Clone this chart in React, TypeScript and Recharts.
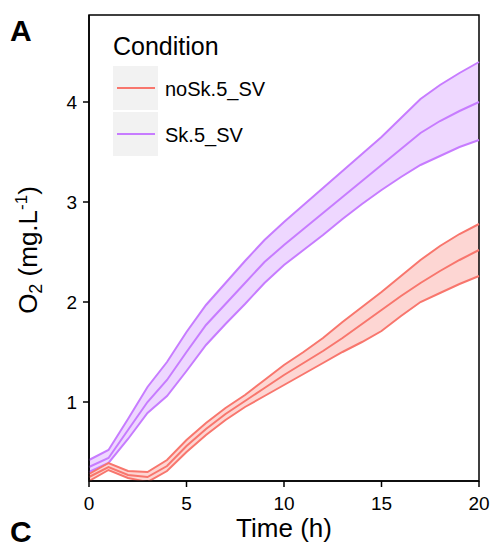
import React from 'react';
import { ComposedChart, Area, Line, XAxis, YAxis, Legend, ReferenceArea } from 'recharts';

const times = [0, 1, 2, 3, 4, 5, 6, 7, 8, 9, 10, 11, 12, 13, 14, 15, 16, 17, 18, 19, 20];

// Sk.5_SV (purple)
const skMean = [0.35, 0.44, 0.72, 1.0, 1.22, 1.5, 1.77, 1.98, 2.19, 2.4, 2.57, 2.73, 2.89, 3.05, 3.21, 3.37, 3.53, 3.69, 3.81, 3.91, 4.0];
const skUpper = [0.42, 0.52, 0.83, 1.15, 1.4, 1.7, 1.97, 2.19, 2.41, 2.62, 2.8, 2.97, 3.14, 3.31, 3.48, 3.65, 3.84, 4.03, 4.17, 4.29, 4.4];
const skLower = [0.3, 0.39, 0.63, 0.89, 1.06, 1.31, 1.57, 1.78, 1.98, 2.19, 2.37, 2.52, 2.67, 2.83, 2.98, 3.12, 3.25, 3.37, 3.46, 3.55, 3.62];

// noSk.5_SV (red)
const noMean = [0.25, 0.35, 0.27, 0.25, 0.36, 0.56, 0.73, 0.88, 1.01, 1.14, 1.27, 1.39, 1.51, 1.64, 1.78, 1.92, 2.06, 2.19, 2.31, 2.42, 2.52];
const noUpper = [0.28, 0.39, 0.31, 0.3, 0.42, 0.62, 0.79, 0.94, 1.07, 1.22, 1.37, 1.5, 1.64, 1.8, 1.95, 2.1, 2.26, 2.42, 2.56, 2.68, 2.78];
const noLower = [0.21, 0.32, 0.24, 0.2, 0.31, 0.5, 0.67, 0.82, 0.95, 1.06, 1.17, 1.28, 1.39, 1.5, 1.6, 1.71, 1.86, 2.0, 2.09, 2.18, 2.26];

const xTicks = [0, 5, 10, 15, 20];
const yTicks = [1, 2, 3, 4];
const seriesNames = ['noSk.5_SV', 'Sk.5_SV'];
const legendTitle = 'Condition';
const xTitle = 'Time (h)';
const panelLetters = ['A', 'C'];

const RED = '#F8766D';
const PURPLE = '#C77CFF';
const FONT = '"Liberation Sans", Arial, Helvetica, sans-serif';

const data = times.map((t, i) => ({
  t,
  skBand: [skLower[i], skUpper[i]],
  skMean: skMean[i],
  skUpper: skUpper[i],
  skLower: skLower[i],
  noBand: [noLower[i], noUpper[i]],
  noMean: noMean[i],
  noUpper: noUpper[i],
  noLower: noLower[i],
}));

const LegendBox = () => (
  <svg width={180} height={140} style={{ display: 'block', fontFamily: FONT }}>
    <text x={13} y={30} fontSize={25} fill="#000">{legendTitle}</text>
    {seriesNames.map((name, i) => (
      <g key={name}>
        <rect x={13} y={41 + i * 46} width={45} height={44} fill="#F2F2F2" />
        <line x1={17} x2={55} y1={63 + i * 46} y2={63 + i * 46} stroke={i === 0 ? RED : PURPLE} strokeWidth={2} />
        <text x={65} y={71 + i * 46} fontSize={20} fill="#000">{name}</text>
      </g>
    ))}
  </svg>
);

const XLabel = (props: any) => {
  const vb = props.viewBox || { x: 89, width: 390, y: 481 };
  return (
    <text x={vb.x + vb.width / 2} y={537} textAnchor="middle" fontSize={26} fill="#000" fontFamily={FONT}>
      {xTitle}
    </text>
  );
};

const YLabel = (props: any) => {
  const vb = props.viewBox || { y: 15, height: 466 };
  const cy = vb.y + vb.height / 2 + 2;
  const cx = 37;
  return (
    <text x={cx} y={cy} transform={`rotate(-90, ${cx}, ${cy})`} textAnchor="middle" fontSize={26} fill="#000" fontFamily={FONT}>
      O<tspan dy={5} fontSize={18}>2</tspan>
      <tspan dy={-5} fontSize={26}> (mg.L</tspan>
      <tspan dy={-10} fontSize={17}>-1</tspan>
      <tspan dy={10} fontSize={26}>)</tspan>
    </text>
  );
};

export default function App() {
  return (
    <div style={{ position: 'absolute', left: 0, top: 0, width: 492, height: 551, background: '#fff', fontFamily: FONT }}>
      <ComposedChart width={492} height={551} data={data} margin={{ top: 15, right: 13, bottom: 0, left: 0 }}>
        <XAxis
          dataKey="t"
          type="number"
          domain={[0, 20]}
          ticks={xTicks}
          height={70}
          tickSize={6}
          tickMargin={10}
          stroke="#000"
          strokeWidth={1.5}
          tick={{ fill: '#000', fontSize: 19, fontFamily: FONT }}
          tickLine={{ stroke: '#000', strokeWidth: 1.5 }}
          label={<XLabel />}
        />
        <YAxis
          type="number"
          domain={[0.21, 4.87]}
          allowDataOverflow
          ticks={yTicks}
          width={89}
          tickSize={6}
          tickMargin={6}
          stroke="#000"
          strokeWidth={1.5}
          tick={{ fill: '#000', fontSize: 19, fontFamily: FONT }}
          tickLine={{ stroke: '#000', strokeWidth: 1.5 }}
          label={<YLabel />}
        />
        <Area dataKey="skBand" type="linear" stroke="none" fill={PURPLE} fillOpacity={0.3} isAnimationActive={false} />
        <Line dataKey="skUpper" type="linear" stroke={PURPLE} strokeWidth={2} dot={false} isAnimationActive={false} />
        <Line dataKey="skLower" type="linear" stroke={PURPLE} strokeWidth={2} dot={false} isAnimationActive={false} />
        <Line dataKey="skMean" type="linear" stroke={PURPLE} strokeWidth={2} dot={false} isAnimationActive={false} />
        <Area dataKey="noBand" type="linear" stroke="none" fill={RED} fillOpacity={0.3} isAnimationActive={false} />
        <Line dataKey="noUpper" type="linear" stroke={RED} strokeWidth={2} dot={false} isAnimationActive={false} />
        <Line dataKey="noLower" type="linear" stroke={RED} strokeWidth={2} dot={false} isAnimationActive={false} />
        <Line dataKey="noMean" type="linear" stroke={RED} strokeWidth={2} dot={false} isAnimationActive={false} />
        <ReferenceArea x1={0} x2={20} y1={0.21} y2={4.87} fill="none" stroke="#000" strokeWidth={1.5} ifOverflow="visible" />
        <Legend
          layout="horizontal"
          verticalAlign="middle"
          align="center"
          content={<LegendBox />}
          wrapperStyle={{ left: 100, top: 25, width: 180, height: 140 }}
        />
      </ComposedChart>
      <div style={{ position: 'absolute', left: 10, top: 14, fontSize: 30, fontWeight: 'bold', lineHeight: '34px', fontFamily: FONT }}>{panelLetters[0]}</div>
      <div style={{ position: 'absolute', left: 10, top: 515, fontSize: 30, fontWeight: 'bold', lineHeight: '34px', fontFamily: FONT }}>{panelLetters[1]}</div>
    </div>
  );
}
